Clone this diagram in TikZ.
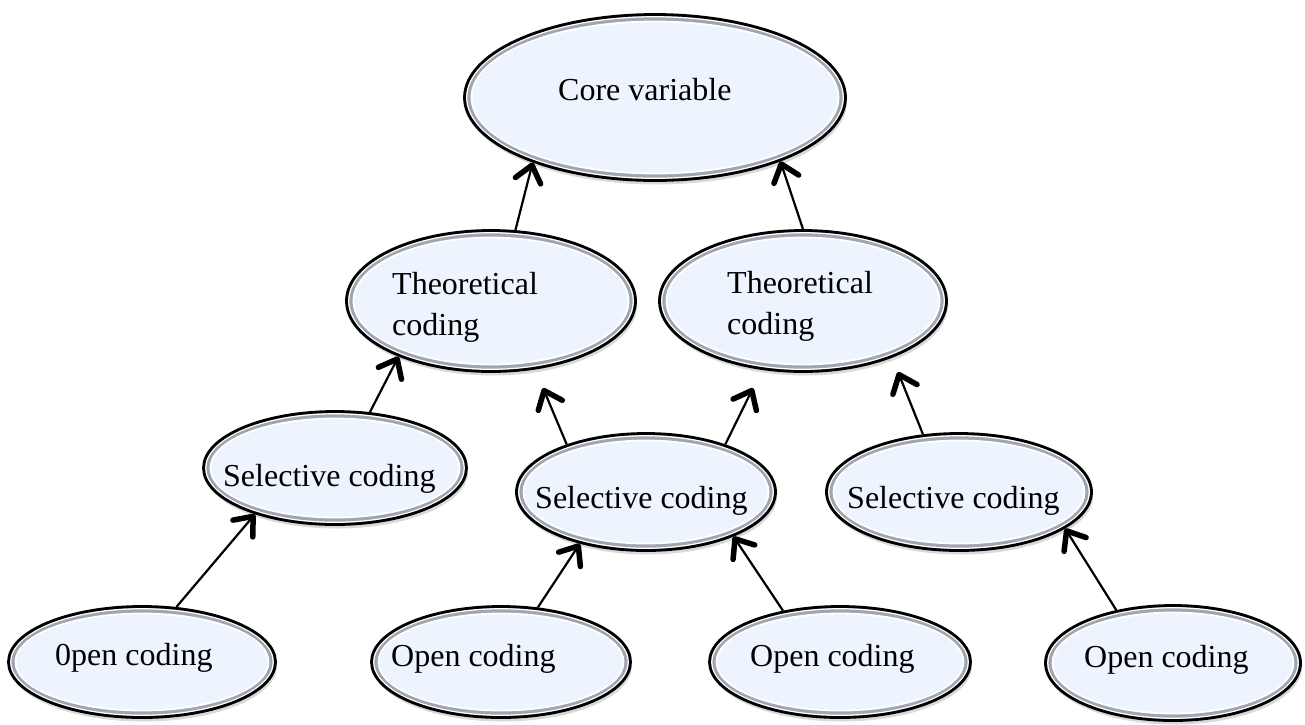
\documentclass[tikz,border=0pt]{standalone}
\usepackage{fontspec}
\setmainfont{Liberation Serif}
\usetikzlibrary{arrows.meta,shapes.geometric,shadows,calc}
\definecolor{ovalfill}{RGB}{238,244,253}
\definecolor{ringgray}{RGB}{160,166,176}
\begin{document}
\begin{tikzpicture}[x=1pt,y=-1pt,
  oval/.style={ellipse, inner sep=0pt, fill=ovalfill, draw=black, line width=2.8pt,
    drop shadow={opacity=0.3, shadow xshift=1.5pt, shadow yshift=-4pt},
    path picture={
      \draw[ringgray, line width=14pt] let \p1=(path picture bounding box.north east), \p2=(path picture bounding box.center) in (\p2) ellipse ({\x1-\x2} and {\y1-\y2});
      \draw[white, line width=1.3pt] let \p1=(path picture bounding box.north east), \p2=(path picture bounding box.center) in (\p2) ellipse ({\x1-\x2-2.2pt} and {\y1-\y2-2.2pt});
      \draw[white, line width=1.8pt] let \p1=(path picture bounding box.north east), \p2=(path picture bounding box.center) in (\p2) ellipse ({\x1-\x2-7pt} and {\y1-\y2-7pt});
    }},
  lbl/.style={anchor=base west, inner sep=0pt, font=\fontsize{32}{41}\selectfont, align=left},
  arr/.style={line width=2.2pt, -{Straight Barb[length=16pt, width=26pt, line width=5.5pt, round]}}
]
\useasboundingbox (0,0) rectangle (1305,724);
% ovals
\node[oval, minimum width=381pt, minimum height=166pt] (core) at (655,97.5) {};
\node[oval, minimum width=289pt, minimum height=141pt] (T1) at (491,301) {};
\node[oval, minimum width=287pt, minimum height=141pt] (T2) at (803,301) {};
\node[oval, minimum width=263pt, minimum height=113pt] (S1) at (335,468) {};
\node[oval, minimum width=259pt, minimum height=117pt] (S2) at (646,492) {};
\node[oval, minimum width=265pt, minimum height=117pt] (S3) at (959,492) {};
\node[oval, minimum width=267pt, minimum height=111pt] (O1) at (142,662) {};
\node[oval, minimum width=259pt, minimum height=111pt] (O2) at (501,662) {};
\node[oval, minimum width=261pt, minimum height=111pt] (O3) at (840,662) {};
\node[oval, minimum width=255pt, minimum height=115pt] (O4) at (1173,663) {};
% texts
\node[lbl] (coreT) at (558,100) {Core variable};
\node[lbl] (T1T) at (392,335) {Theoretical\\coding};
\node[lbl] (T2T) at (727,334) {Theoretical\\coding};
\node[lbl] (S1T) at (223,486) {Selective coding};
\node[lbl] (S2T) at (535,508) {Selective coding};
\node[lbl] (S3T) at (847,508) {Selective coding};
\node[lbl] (O1T) at (55,665) {0pen coding};
\node[lbl] (O2T) at (391,666) {Open coding};
\node[lbl] (O3T) at (750,666) {Open coding};
\node[lbl] (O4T) at (1084,667) {Open coding};
% free arrow ends
\coordinate (h4) at (543,388);
\coordinate (h5) at (753,388);
\coordinate (h6) at (898,372);
% connectors
\draw[arr] (T1.71) -- (core.208);
\draw[arr] (T2.90) -- (core.333);
\draw[arr] (S1.58) -- (T1.211);
\draw[arr] (S2.149) -- (h4);
\draw[arr] (S2.31) -- (h5);
\draw[arr] (S3.122) -- (h6);
\draw[arr] (O1.58) -- (S1.210);
\draw[arr] (O2.56) -- (S2.218);
\draw[arr] (O3.138) -- (S2.333);
\draw[arr] (O4.137) -- (S3.341);
\end{tikzpicture}
\end{document}
